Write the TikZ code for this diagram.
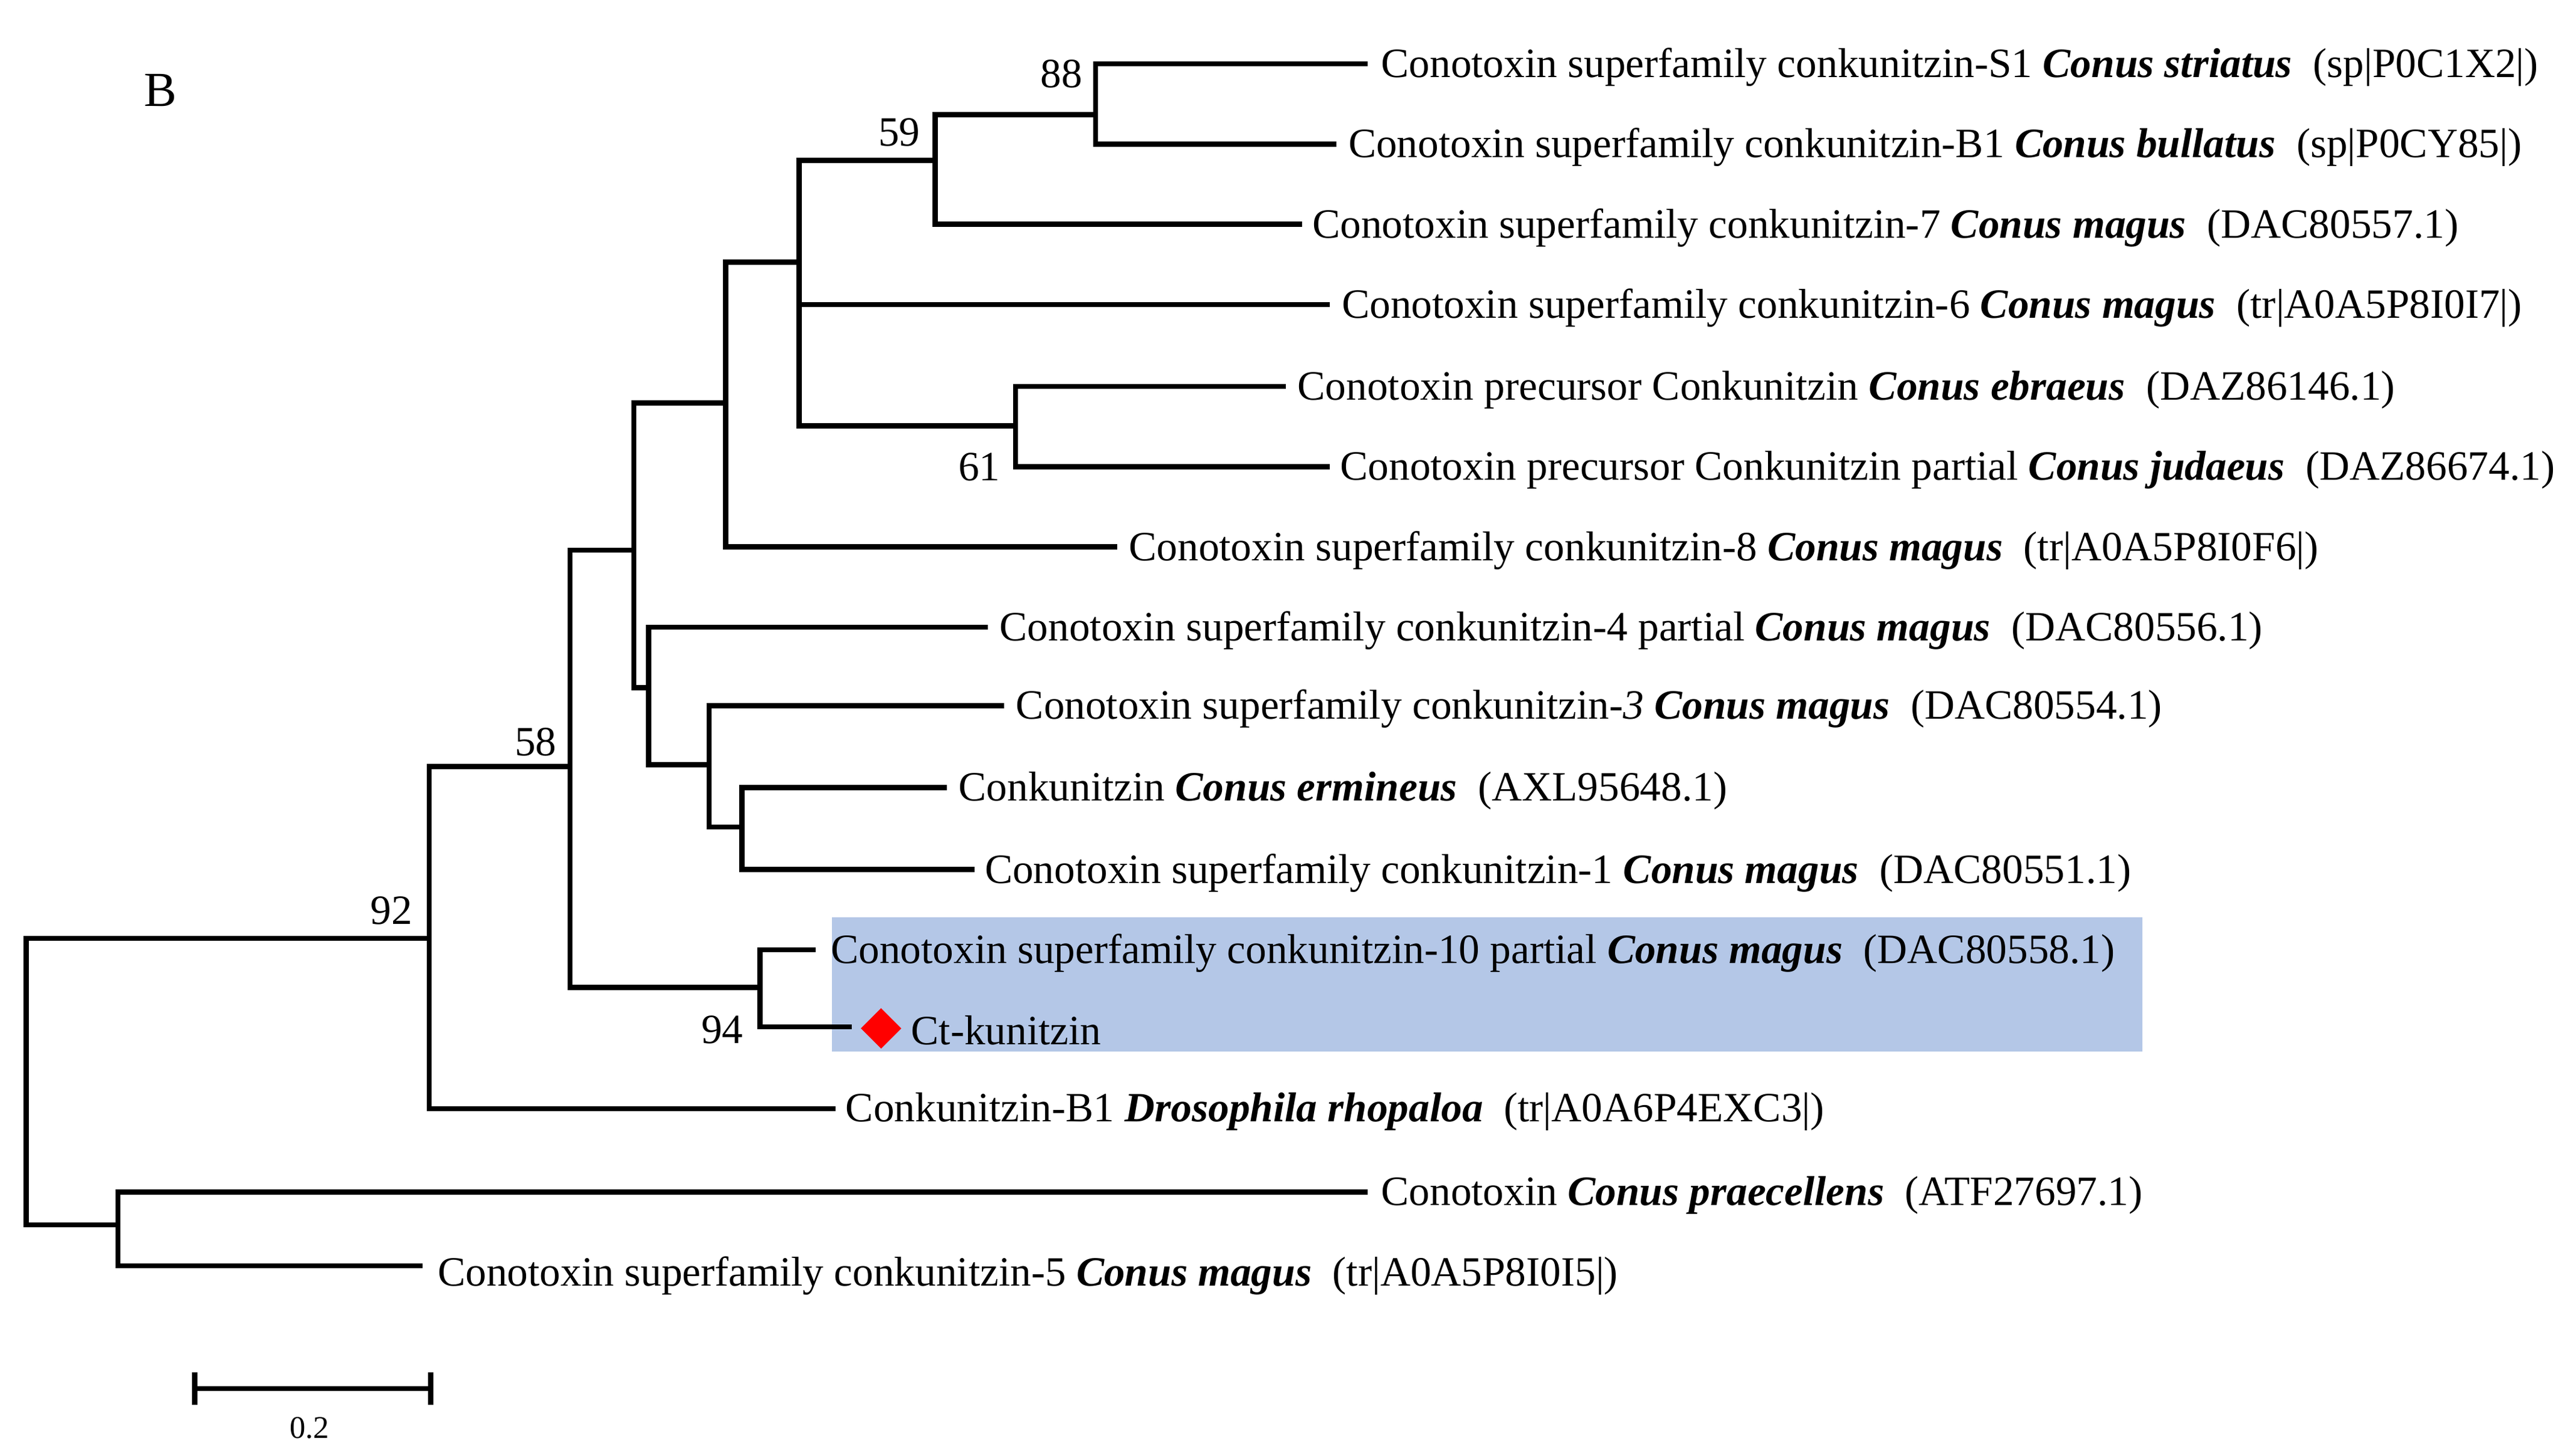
\documentclass[tikz,border=0pt]{standalone}
\usepackage{fontspec}
\setmainfont{Liberation Serif}
\usetikzlibrary{shapes.geometric}
\definecolor{hl}{RGB}{180,199,231}
\begin{document}
\begin{tikzpicture}[x=0.02cm,y=-0.02cm,
  br/.style={line width=1.8pt},
  lf/.style={anchor=west,inner sep=0pt,yshift=-0.04cm,font=\fontsize{14.5}{16}\selectfont},
  bs/.style={inner sep=0pt,font=\fontsize{14.5}{16}\selectfont}]
\useasboundingbox (0,0) rectangle (1568,889);
\fill[hl] (508,560) rectangle (1308,642);
% leaves
\node[lf] (s1) at (843,39) {Conotoxin superfamily conkunitzin-S1 \textbf{\textit{Conus striatus}}\ \ (sp|P0C1X2|)};
\node[lf] (b1) at (823,88) {Conotoxin superfamily conkunitzin-B1 \textbf{\textit{Conus bullatus}}\ \ (sp|P0CY85|)};
\node[lf] (c7) at (801,137) {Conotoxin superfamily conkunitzin-7 \textbf{\textit{Conus magus}}\ \ (DAC80557.1)};
\node[lf] (c6) at (819,186) {Conotoxin superfamily conkunitzin-6 \textbf{\textit{Conus magus}}\ \ (tr|A0A5P8I0I7|)};
\node[lf] (ebr) at (792,236) {Conotoxin precursor Conkunitzin \textbf{\textit{Conus ebraeus}}\ \ (DAZ86146.1)};
\node[lf] (jud) at (818,285) {Conotoxin precursor Conkunitzin partial \textbf{\textit{Conus judaeus}}\ \ (DAZ86674.1)};
\node[lf] (c8) at (689,334) {Conotoxin superfamily conkunitzin-8 \textbf{\textit{Conus magus}}\ \ (tr|A0A5P8I0F6|)};
\node[lf] (c4) at (610,383) {Conotoxin superfamily conkunitzin-4 partial \textbf{\textit{Conus magus}}\ \ (DAC80556.1)};
\node[lf] (c3) at (620,431) {Conotoxin superfamily conkunitzin-\textit{3} \textbf{\textit{Conus magus}}\ \ (DAC80554.1)};
\node[lf] (erm) at (585,481) {Conkunitzin \textbf{\textit{Conus ermineus}}\ \ (AXL95648.1)};
\node[lf] (c1) at (601,531) {Conotoxin superfamily conkunitzin-1 \textbf{\textit{Conus magus}}\ \ (DAC80551.1)};
\node[lf] (c10) at (507,580) {Conotoxin superfamily conkunitzin-10 partial \textbf{\textit{Conus magus}}\ \ (DAC80558.1)};
\node[lf] (ct) at (556,627) {Ct-kunitzin};
\node[lf] (dro) at (516,677) {Conkunitzin-B1 \textbf{\textit{Drosophila rhopaloa}}\ \ (tr|A0A6P4EXC3|)};
\node[lf] (pra) at (843,728) {Conotoxin \textbf{\textit{Conus praecellens}}\ \ (ATF27697.1)};
\node[lf] (c5) at (267,777) {Conotoxin superfamily conkunitzin-5 \textbf{\textit{Conus magus}}\ \ (tr|A0A5P8I0I5|)};
\node[diamond,fill=red,inner sep=0pt,minimum size=0.5cm] (dm) at (538,628) {};
% internal nodes
\coordinate (r) at (16,660);
\coordinate (a72) at (72,748);
\coordinate (a262) at (262,573);
\coordinate (a348) at (348,468);
\coordinate (a464) at (464,603);
\coordinate (a387) at (387,336);
\coordinate (a443) at (443,246);
\coordinate (a488) at (488,160);
\coordinate (a571) at (571,98);
\coordinate (a669) at (669,70);
\coordinate (a620) at (620,260);
\coordinate (a396) at (396,420);
\coordinate (a433) at (433,467);
\coordinate (a453) at (453,505);
% leaf ends
\coordinate (es1) at (835,39);
\coordinate (eb1) at (816,88);
\coordinate (ec7) at (795,137);
\coordinate (ec6) at (812,186);
\coordinate (eebr) at (785,236);
\coordinate (ejud) at (812,285);
\coordinate (ec8) at (682,334);
\coordinate (ec4) at (603,383);
\coordinate (ec3) at (613,431);
\coordinate (eerm) at (578,481);
\coordinate (ec1) at (595,531);
\coordinate (ec10) at (498,580);
\coordinate (ect) at (520,627);
\coordinate (edro) at (510,677);
\coordinate (epra) at (835,728);
\coordinate (ec5) at (258,773);
% edges
\draw[br] (r) |- (a262); \draw[br] (r) |- (a72);
\draw[br] (a72) |- (epra); \draw[br] (a72) |- (ec5);
\draw[br] (a262) |- (a348); \draw[br] (a262) |- (edro);
\draw[br] (a348) |- (a387); \draw[br] (a348) |- (a464);
\draw[br] (a464) |- (ec10); \draw[br] (a464) |- (ect);
\draw[br] (a387) |- (a443); \draw[br] (a387) |- (a396);
\draw[br] (a443) |- (a488); \draw[br] (a443) |- (ec8);
\draw[br] (a488) |- (a571); \draw[br] (a488) |- (ec6); \draw[br] (a488) |- (a620);
\draw[br] (a571) |- (a669); \draw[br] (a571) |- (ec7);
\draw[br] (a669) |- (es1); \draw[br] (a669) |- (eb1);
\draw[br] (a620) |- (eebr); \draw[br] (a620) |- (ejud);
\draw[br] (a396) |- (ec4); \draw[br] (a396) |- (a433);
\draw[br] (a433) |- (ec3); \draw[br] (a433) |- (a453);
\draw[br] (a453) |- (eerm); \draw[br] (a453) |- (ec1);
% bootstrap
\node[bs] (l88) at (648,45) {88};
\node[bs] (l59) at (549,81) {59};
\node[bs] (l61) at (598,285) {61};
\node[bs] (l58) at (327,453) {58};
\node[bs] (l92) at (239,556) {92};
\node[bs] (l94) at (441,629) {94};
\node[bs,font=\fontsize{17}{20}\selectfont] (B) at (98,55) {B};
% scale bar
\coordinate (sb1) at (119,848); \coordinate (sb2) at (263,848);
\draw[br] (sb1) -- (sb2);
\draw[br] ([yshift=0.2cm]sb1) -- ([yshift=-0.2cm]sb1);
\draw[br] ([yshift=0.2cm]sb2) -- ([yshift=-0.2cm]sb2);
\node[bs,font=\fontsize{11}{13}\selectfont] (sbl) at (189,872) {0.2};
\end{tikzpicture}
\end{document}
